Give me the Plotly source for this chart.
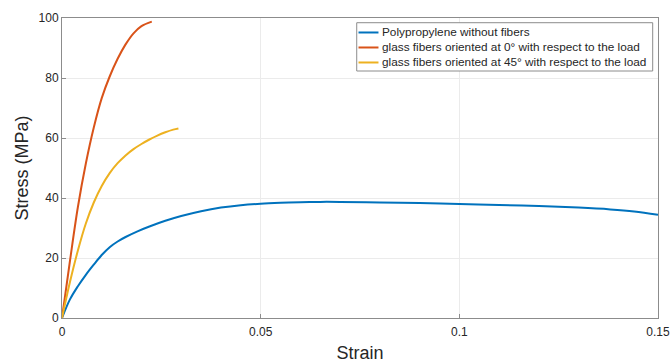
import plotly.graph_objects as go

# Stress-strain curves (strain in mm/mm, stress in MPa)
pp_strain = [0, 0.002, 0.004, 0.006, 0.008, 0.010, 0.012, 0.014, 0.016, 0.019, 0.022,
             0.026, 0.030, 0.035, 0.040, 0.045, 0.050, 0.055, 0.060, 0.065, 0.070,
             0.080, 0.090, 0.100, 0.110, 0.120, 0.130, 0.138, 0.144, 0.150]
pp_stress = [0, 6.2, 10.6, 14.4, 17.8, 21.0, 23.6, 25.5, 27.0, 28.9, 30.5,
             32.4, 34.0, 35.6, 36.8, 37.6, 38.1, 38.4, 38.6, 38.7, 38.7,
             38.5, 38.3, 38.0, 37.7, 37.3, 36.8, 36.2, 35.5, 34.4]

gf0_strain = [0, 0.002, 0.004, 0.006, 0.008, 0.010, 0.012, 0.014, 0.016, 0.018, 0.020, 0.0226]
gf0_stress = [0, 19.0, 37.0, 51.5, 63.5, 73.3, 80.5, 86.4, 91.2, 94.9, 97.3, 98.8]

gf45_strain = [0, 0.002, 0.004, 0.006, 0.008, 0.010, 0.012, 0.014, 0.016, 0.018, 0.020,
               0.022, 0.024, 0.026, 0.028, 0.0293]
gf45_stress = [0, 12.0, 22.5, 31.5, 38.5, 44.0, 48.3, 51.6, 54.2, 56.3, 58.0,
               59.5, 60.8, 61.9, 62.8, 63.2]

names = [
    "Polypropylene without fibers",
    "glass fibers oriented at 0° with respect to the load",
    "glass fibers oriented at 45° with respect to the load",
]
colors = ["#0072BD", "#D95319", "#EDB120"]

x_ticks = [0, 0.05, 0.1, 0.15]
x_tick_text = ["0", "0.05", "0.1", "0.15"]
y_ticks = [0, 20, 40, 60, 80, 100]

FONT = "Liberation Sans, Arial, Helvetica, sans-serif"
AXIS_GREY = "#8c8c8c"

fig = go.Figure()
for xs, ys, name, col in zip([pp_strain, gf0_strain, gf45_strain],
                             [pp_stress, gf0_stress, gf45_stress], names, colors):
    fig.add_trace(go.Scatter(x=xs, y=ys, mode="lines", name=name, showlegend=False,
                             line=dict(color=col, width=2, shape="spline", smoothing=1.0)))

axis_common = dict(
    showline=True, linecolor=AXIS_GREY, linewidth=1, mirror=True,
    showgrid=True, gridcolor="#ebebeb", gridwidth=1,
    ticks="inside", ticklen=4, tickcolor=AXIS_GREY,
    zeroline=False, automargin=False, ticklabeloverflow="allow",
    tickfont=dict(family=FONT, size=12, color="#262626"),
)

# Boxed legend in the upper right corner (paper coordinates of the plot area)
leg_x0, leg_x1 = 0.4945, 0.9911
leg_y0, leg_y1 = 0.8233, 0.9843
row_y = [0.9517, 0.9017, 0.8517]
sample_x0, sample_x1, text_x = 0.4975, 0.5310, 0.5336

shapes = [dict(type="rect", xref="paper", yref="paper", x0=leg_x0, x1=leg_x1,
               y0=leg_y0, y1=leg_y1, line=dict(color=AXIS_GREY, width=1),
               fillcolor="white", layer="above")]
annotations = []
for name, col, ry in zip(names, colors, row_y):
    shapes.append(dict(type="line", xref="paper", yref="paper", x0=sample_x0, x1=sample_x1,
                       y0=ry, y1=ry, line=dict(color=col, width=2), layer="above"))
    annotations.append(dict(text=name, xref="paper", yref="paper", x=text_x, y=ry,
                            xanchor="left", yanchor="middle", showarrow=False,
                            font=dict(family=FONT, size=11.8, color="#262626")))

fig.update_layout(
    width=670, height=363,
    margin=dict(l=62, r=12, t=18, b=45),
    paper_bgcolor="white", plot_bgcolor="white",
    font=dict(family=FONT, color="#262626"),
    xaxis=dict(range=[0, 0.15], tickvals=x_ticks, ticktext=x_tick_text,
               ticklabelstandoff=3,
               title=dict(text="Strain", font=dict(size=18), standoff=8), **axis_common),
    yaxis=dict(range=[0, 100], tickvals=y_ticks,
               title=dict(text="Stress (MPa)", font=dict(size=18), standoff=5), **axis_common),
    showlegend=False,
    shapes=shapes,
    annotations=annotations,
)

fig.write_html("out.html")
